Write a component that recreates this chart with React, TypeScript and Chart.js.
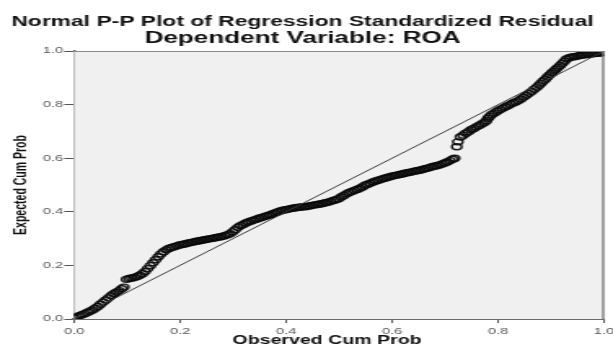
import React, { useEffect, useRef } from "react";
import { Chart, registerables } from "chart.js";

Chart.register(...registerables);

const chartTitle = "Normal P-P Plot of Regression Standardized Residual";
const chartSubtitle = "Dependent Variable: ROA";
const xAxisTitle = "Observed Cum Prob";
const yAxisTitle = "Expected Cum Prob";

const tickValues = [0, 0.2, 0.4, 0.6, 0.8, 1.0];
const tickLabels = ["0.0", "0.2", "0.4", "0.6", "0.8", "1.0"];

const observedCumProb = [
  0.000, 0.005, 0.010, 0.015, 0.020, 0.025, 0.030, 0.035, 0.040, 0.045,
  0.050, 0.055, 0.060, 0.065, 0.070, 0.075, 0.080, 0.085, 0.090, 0.094,
  0.099, 0.104, 0.109, 0.114, 0.119, 0.124, 0.129, 0.134, 0.139, 0.144,
  0.149, 0.154, 0.159, 0.164, 0.169, 0.174, 0.179, 0.184, 0.189, 0.194,
  0.199, 0.204, 0.209, 0.214, 0.219, 0.224, 0.229, 0.234, 0.239, 0.244,
  0.249, 0.254, 0.259, 0.264, 0.269, 0.274, 0.279, 0.284, 0.289, 0.294,
  0.299, 0.304, 0.309, 0.314, 0.319, 0.324, 0.329, 0.334, 0.339, 0.344,
  0.349, 0.354, 0.359, 0.364, 0.369, 0.374, 0.379, 0.384, 0.389, 0.394,
  0.399, 0.404, 0.409, 0.414, 0.419, 0.424, 0.429, 0.434, 0.439, 0.444,
  0.449, 0.454, 0.459, 0.464, 0.469, 0.474, 0.479, 0.484, 0.489, 0.494,
  0.499, 0.504, 0.509, 0.514, 0.519, 0.524, 0.529, 0.534, 0.539, 0.544,
  0.549, 0.554, 0.559, 0.564, 0.569, 0.574, 0.579, 0.584, 0.589, 0.594,
  0.599, 0.604, 0.609, 0.614, 0.619, 0.624, 0.629, 0.634, 0.639, 0.644,
  0.649, 0.654, 0.659, 0.664, 0.669, 0.674, 0.679, 0.684, 0.689, 0.694,
  0.699, 0.704, 0.709, 0.714, 0.718, 0.722, 0.724, 0.729, 0.734, 0.739,
  0.744, 0.749, 0.754, 0.759, 0.764, 0.769, 0.774, 0.778, 0.781, 0.784,
  0.788, 0.793, 0.798, 0.803, 0.808, 0.813, 0.818, 0.823, 0.828, 0.833,
  0.838, 0.843, 0.848, 0.853, 0.858, 0.863, 0.868, 0.873, 0.877, 0.881,
  0.885, 0.889, 0.893, 0.897, 0.901, 0.905, 0.909, 0.913, 0.917, 0.921,
  0.925, 0.929, 0.934, 0.939, 0.944, 0.949, 0.954, 0.959, 0.964, 0.969,
  0.974, 0.979, 0.984, 0.989, 0.994, 0.999,
];

const expectedCumProb = [
  0.004, 0.008, 0.012, 0.016, 0.020, 0.024, 0.029, 0.034, 0.040, 0.047,
  0.055, 0.063, 0.071, 0.079, 0.087, 0.094, 0.100, 0.106, 0.113, 0.119,
  0.148, 0.151, 0.153, 0.155, 0.159, 0.163, 0.169, 0.177, 0.188, 0.199,
  0.210, 0.221, 0.232, 0.243, 0.251, 0.258, 0.263, 0.267, 0.270, 0.273,
  0.276, 0.278, 0.280, 0.283, 0.285, 0.287, 0.289, 0.291, 0.293, 0.295,
  0.297, 0.299, 0.300, 0.302, 0.304, 0.306, 0.308, 0.311, 0.314, 0.318,
  0.325, 0.333, 0.342, 0.348, 0.353, 0.358, 0.362, 0.366, 0.369, 0.372,
  0.376, 0.379, 0.382, 0.385, 0.388, 0.392, 0.396, 0.399, 0.403, 0.406,
  0.408, 0.410, 0.412, 0.414, 0.415, 0.417, 0.418, 0.419, 0.420, 0.422,
  0.424, 0.426, 0.427, 0.429, 0.431, 0.434, 0.436, 0.439, 0.442, 0.445,
  0.449, 0.455, 0.461, 0.467, 0.472, 0.476, 0.480, 0.483, 0.488, 0.493,
  0.499, 0.503, 0.507, 0.511, 0.515, 0.518, 0.521, 0.524, 0.527, 0.530,
  0.533, 0.535, 0.537, 0.539, 0.541, 0.544, 0.546, 0.548, 0.550, 0.552,
  0.554, 0.556, 0.559, 0.562, 0.564, 0.567, 0.570, 0.572, 0.575, 0.578,
  0.582, 0.586, 0.591, 0.596, 0.600, 0.643, 0.661, 0.679, 0.686, 0.693,
  0.699, 0.706, 0.711, 0.717, 0.722, 0.728, 0.733, 0.740, 0.749, 0.756,
  0.763, 0.769, 0.775, 0.781, 0.786, 0.791, 0.796, 0.801, 0.806, 0.810,
  0.815, 0.821, 0.828, 0.835, 0.842, 0.849, 0.857, 0.865, 0.872, 0.880,
  0.888, 0.895, 0.903, 0.911, 0.918, 0.925, 0.932, 0.939, 0.946, 0.954,
  0.962, 0.970, 0.975, 0.978, 0.979, 0.981, 0.983, 0.985, 0.986, 0.988,
  0.989, 0.990, 0.991, 0.992, 0.993, 0.994,
];

const referenceLine = [0, 1];

const FULL_W = 613;
const FULL_H = 351;
const CANVAS_W = 376;
const STRETCH = FULL_W / CANVAS_W;
const FONT = "'Liberation Sans', Arial, sans-serif";

export default function App() {
  const canvasRef = useRef<HTMLCanvasElement | null>(null);

  useEffect(() => {
    const canvas = canvasRef.current;
    if (!canvas) return;

    const plotBackground = {
      id: "plotBackground",
      beforeDatasetsDraw(chart: any) {
        const { ctx, chartArea } = chart;
        ctx.save();
        ctx.fillStyle = "#f0f0f0";
        ctx.fillRect(chartArea.left, chartArea.top, chartArea.right - chartArea.left, chartArea.bottom - chartArea.top);
        ctx.restore();
      },
      afterDraw(chart: any) {
        const { ctx, chartArea } = chart;
        ctx.save();
        ctx.strokeStyle = "#8a8a8a";
        ctx.lineWidth = 1;
        ctx.beginPath();
        ctx.moveTo(chartArea.left, chartArea.top + 0.5);
        ctx.lineTo(chartArea.right, chartArea.top + 0.5);
        ctx.stroke();
        ctx.strokeStyle = "#777";
        ctx.lineWidth = 1.3;
        ctx.beginPath();
        ctx.moveTo(chartArea.right - 0.6, chartArea.top);
        ctx.lineTo(chartArea.right - 0.6, chartArea.bottom);
        ctx.stroke();
        ctx.fillStyle = "#111";
        ctx.font = `bold 12px ${FONT}`;
        ctx.textAlign = "center";
        ctx.textBaseline = "middle";
        ctx.fillText(xAxisTitle, 327 / STRETCH, 341);
        ctx.restore();
      },
    };

    const chart = new Chart(canvas, {
      type: "scatter",
      data: {
        datasets: [
          {
            type: "scatter",
            data: observedCumProb.map((x, i) => ({ x, y: expectedCumProb[i] })),
            pointStyle: "circle",
            pointRadius: 3,
            pointBorderWidth: 1.4,
            pointBackgroundColor: "rgba(0,0,0,0)",
            pointBorderColor: "rgba(10,10,10,0.92)",
            order: 2,
          },
          {
            type: "line",
            data: referenceLine.map((v) => ({ x: v, y: v })),
            borderColor: "#3a3a3a",
            borderWidth: 1,
            pointRadius: 0,
            fill: false,
            order: 1,
          } as any,
        ],
      },
      options: {
        responsive: false,
        animation: false,
        events: [],
        layout: { padding: { left: 0, right: CANVAS_W - 605 / STRETCH, top: 0, bottom: 0 } },
        plugins: {
          legend: { display: false },
          tooltip: { enabled: false },
          title: {
            display: true,
            text: chartTitle,
            color: "#111",
            font: { family: FONT, size: 14, weight: "bold", lineHeight: 1 },
            padding: { top: 15, bottom: 0 },
          },
          subtitle: {
            display: true,
            text: chartSubtitle,
            color: "#111",
            font: { family: FONT, size: 16, weight: "bold", lineHeight: 1 },
            padding: { top: 2, bottom: 4 },
          },
        },
        scales: {
          x: {
            type: "linear",
            min: 0,
            max: 1,
            afterBuildTicks: (s: any) => {
              s.ticks = tickValues.map((v) => ({ value: v }));
            },
            afterFit: (s: any) => {
              s.height = FULL_H - 319;
              s.paddingLeft = 0;
              s.paddingRight = 0;
            },
            ticks: {
              color: "#555",
              font: { family: FONT, size: 9 },
              padding: 3.5,
              maxRotation: 0,
              autoSkip: false,
              callback: (_v: any, i: number) => tickLabels[i],
            },
            grid: {
              drawOnChartArea: false,
              drawTicks: true,
              tickLength: 4,
              tickColor: "#555",
              tickWidth: 1,
            },
            border: { display: true, color: "#6a6a6a", width: 2 },
            title: { display: false },
          },
          y: {
            type: "linear",
            min: 0,
            max: 1,
            afterBuildTicks: (s: any) => {
              s.ticks = tickValues.map((v) => ({ value: v }));
            },
            afterFit: (s: any) => {
              s.width = 74 / STRETCH;
              s.paddingTop = 0;
              s.paddingBottom = 0;
            },
            ticks: {
              color: "#555",
              font: { family: FONT, size: 9 },
              padding: 0.6,
              autoSkip: false,
              callback: (_v: any, i: number) => tickLabels[i],
            },
            grid: {
              drawOnChartArea: false,
              drawTicks: true,
              tickLength: 6,
              tickColor: "#555",
              tickWidth: 1,
            },
            border: { display: true, color: "#6a6a6a", width: 1.5 },
            title: {
              display: true,
              text: yAxisTitle,
              color: "#111",
              font: { family: FONT, size: 10.5, weight: "bold" },
              padding: { top: 6.6, bottom: 0 },
            },
          },
        },
      },
      plugins: [plotBackground],
    } as any);

    return () => chart.destroy();
  }, []);

  return (
    <div
      style={{
        position: "fixed",
        left: 0,
        top: 0,
        width: FULL_W,
        height: FULL_H,
        overflow: "hidden",
        background: "#fff",
      }}
    >
      <canvas
        ref={canvasRef}
        width={CANVAS_W}
        height={FULL_H}
        style={{
          display: "block",
          width: `${CANVAS_W}px`,
          height: `${FULL_H}px`,
          transform: `scaleX(${STRETCH})`,
          transformOrigin: "0 0",
        }}
      />
    </div>
  );
}
